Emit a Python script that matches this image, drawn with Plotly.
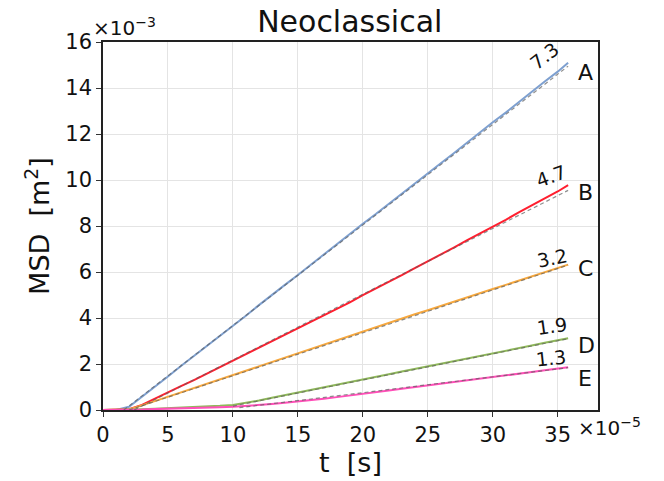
import plotly.graph_objects as go

# time in units of 1e-5 s
t = [0, 1, 2, 3, 4, 5, 6, 7, 8, 9, 10, 11, 12, 13, 14, 15, 16, 17, 18, 19, 20,
     21, 22, 23, 24, 25, 26, 27, 28, 29, 30, 31, 32, 33, 34, 35, 35.8]

# MSD in units of 1e-3 m^2
msd_A = [0, 0, 0.14, 0.57, 1.03, 1.46, 1.91, 2.34, 2.79, 3.22, 3.67, 4.10, 4.56, 4.98,
         5.44, 5.87, 6.32, 6.75, 7.21, 7.63, 8.10, 8.52, 8.97, 9.40, 9.85, 10.28, 10.73,
         11.16, 11.62, 12.04, 12.51, 12.93, 13.39, 13.82, 14.28, 14.71, 15.10]
msd_B = [0, 0, 0.03, 0.22, 0.50, 0.76, 1.04, 1.30, 1.58, 1.85, 2.14, 2.41, 2.70, 2.97,
         3.26, 3.54, 3.83, 4.11, 4.40, 4.68, 4.99, 5.27, 5.58, 5.86, 6.17, 6.46, 6.77,
         7.06, 7.37, 7.66, 7.98, 8.27, 8.59, 8.88, 9.20, 9.50, 9.78]
msd_C = [0, 0, 0.02, 0.20, 0.39, 0.58, 0.77, 0.96, 1.15, 1.34, 1.53, 1.72, 1.91, 2.10,
         2.29, 2.47, 2.66, 2.85, 3.04, 3.23, 3.42, 3.60, 3.79, 3.97, 4.16, 4.34, 4.53,
         4.71, 4.89, 5.08, 5.26, 5.44, 5.62, 5.80, 5.98, 6.16, 6.32]
msd_D = [0, 0, 0.01, 0.03, 0.05, 0.07, 0.09, 0.12, 0.15, 0.18, 0.22, 0.30, 0.41, 0.53,
         0.64, 0.76, 0.87, 0.98, 1.10, 1.21, 1.33, 1.44, 1.55, 1.67, 1.78, 1.90, 2.01,
         2.12, 2.24, 2.35, 2.46, 2.58, 2.69, 2.80, 2.92, 3.03, 3.12]
msd_E = [0, 0, 0.01, 0.02, 0.04, 0.05, 0.07, 0.08, 0.10, 0.12, 0.14, 0.17, 0.21, 0.26,
         0.31, 0.36, 0.42, 0.49, 0.56, 0.64, 0.71, 0.78, 0.85, 0.92, 0.99, 1.06, 1.14,
         1.21, 1.28, 1.36, 1.43, 1.50, 1.58, 1.65, 1.73, 1.80, 1.86]

series_names = ["A", "B", "C", "D", "E"]
series_values = [msd_A, msd_B, msd_C, msd_D, msd_E]
slope_labels = ["7.3", "4.7", "3.2", "1.9", "1.3"]

# linear fits (start/end points in data units)
fit_t0 = [1.6, 2.4, 2.0, 10.0, 10.5]
fit_y0 = [0.0, 0.0, 0.0, 0.17, 0.10]
fit_t1 = [35.8, 35.8, 35.8, 35.8, 35.8]
fit_y1 = [14.95, 9.55, 6.30, 3.10, 1.84]

x_ticks = [0, 5, 10, 15, 20, 25, 30, 35]
y_ticks = [0, 2, 4, 6, 8, 10, 12, 14, 16]

colors = ["#7ea0d0", "#ff1f2f", "#f7a83e", "#8fb85a", "#ff4fb8"]
letter_shift = [(8, -10), (8, -7), (8, -4), (8, -7), (8, -11)]
num_shift = [(-24, 7), (-17, 9), (-16, 7), (-16, 12), (-17, 9)]
num_angle = [-38, -20, -11, -8, -6]

FONT = "DejaVu Sans"
fig = go.Figure()

for name, vals, c in zip(series_names, series_values, colors):
    fig.add_trace(go.Scatter(x=t, y=vals, mode="lines", name=name,
                             line=dict(color=c, width=2), showlegend=False))

for i in range(5):
    fig.add_trace(go.Scatter(x=[fit_t0[i], fit_t1[i]], y=[fit_y0[i], fit_y1[i]],
                             mode="lines", showlegend=False,
                             line=dict(color="rgba(95,95,95,0.7)", width=1.2, dash="4px,3px")))

annotations = []
for i in range(5):
    xe, ye = t[-1], series_values[i][-1]
    annotations.append(dict(x=xe, y=ye, xref="x", yref="y", text=series_names[i],
                            showarrow=False, xanchor="left", yanchor="middle",
                            xshift=letter_shift[i][0], yshift=letter_shift[i][1],
                            font=dict(family=FONT, size=22, color="#111")))
    annotations.append(dict(x=xe, y=ye, xref="x", yref="y", text=slope_labels[i],
                            showarrow=False, xanchor="center", yanchor="middle",
                            xshift=num_shift[i][0], yshift=num_shift[i][1],
                            textangle=num_angle[i],
                            font=dict(family=FONT, size=19, color="#111")))

annotations.append(dict(x=0, y=1, xref="paper", yref="paper", text="×10<sup>−3</sup>",
                        showarrow=False, xanchor="left", yanchor="bottom",
                        xshift=-12, yshift=0,
                        font=dict(family=FONT, size=20, color="#111")))
annotations.append(dict(x=1, y=0, xref="paper", yref="paper", text="×10<sup>−5</sup>",
                        showarrow=False, xanchor="left", yanchor="top",
                        xshift=-22, yshift=-2,
                        font=dict(family=FONT, size=20, color="#111")))

fig.update_layout(
    width=656, height=473,
    margin=dict(l=95, r=66, t=34, b=71),
    paper_bgcolor="white", plot_bgcolor="white",
    title=dict(text="Neoclassical", x=0.521, xanchor="center", y=0.972, yanchor="middle",
               font=dict(family=FONT, size=30, color="#111")),
    font=dict(family=FONT, color="#111"),
    annotations=annotations,
)
fig.update_xaxes(range=[0, 38.1], tickvals=x_ticks, ticktext=[str(v) for v in x_ticks],
                 showgrid=True, gridcolor="#e4e4e4", gridwidth=1,
                 showline=True, linecolor="#222", linewidth=1.5, mirror=True,
                 ticks="outside", ticklen=5, tickcolor="#333",
                 tickfont=dict(family=FONT, size=21, color="#111"), zeroline=False,
                 title=dict(text="t  [s]", font=dict(family=FONT, size=27, color="#111"), standoff=2))
fig.update_yaxes(range=[0, 16], tickvals=y_ticks, ticktext=[str(v) for v in y_ticks],
                 showgrid=True, gridcolor="#e4e4e4", gridwidth=1,
                 showline=True, linecolor="#222", linewidth=1.5, mirror=True,
                 ticks="outside", ticklen=5, tickcolor="#333",
                 tickfont=dict(family=FONT, size=21, color="#111"), zeroline=False,
                 title=dict(text="MSD  [m<sup>2</sup>]", font=dict(family=FONT, size=27, color="#111"), standoff=8))

fig.write_html("out.html")
